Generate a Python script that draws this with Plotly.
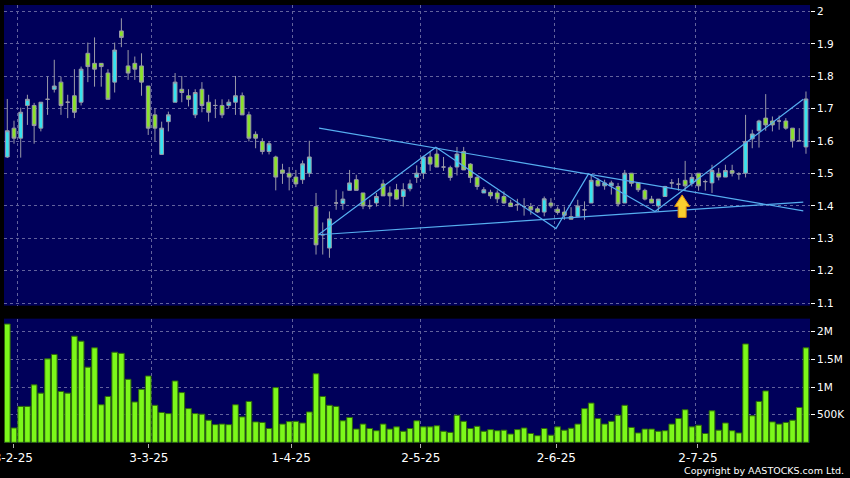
import plotly.graph_objects as go

# ---------------- data ----------------
tick_labels = ["3-2-25", "3-3-25", "1-4-25", "2-5-25", "2-6-25", "2-7-25"]
price_ticks = [1.1, 1.2, 1.3, 1.4, 1.5, 1.6, 1.7, 1.8, 1.9, 2.0]
price_tick_text = ["1.1", "1.2", "1.3", "1.4", "1.5", "1.6", "1.7", "1.8", "1.9", "2"]
vol_ticks = [500000, 1000000, 1500000, 2000000]
vol_tick_text = ["500K", "1M", "1.5M", "2M"]

opens = [1.551, 1.640, 1.609, 1.710, 1.710, 1.640, 1.729, 1.760, 1.782, 1.720,
         1.740, 1.720, 1.871, 1.840, 1.840, 1.810, 1.782, 1.940, 1.832, 1.840,
         1.832, 1.770, 1.681, 1.559, 1.660, 1.720, 1.760, 1.740, 1.681, 1.760,
         1.720, 1.710, 1.710, 1.710, 1.720, 1.740, 1.681, 1.621, 1.599, 1.568,
         1.551, 1.511, 1.501, 1.489, 1.481, 1.501, 1.398, 1.311, 1.270, 1.409,
         1.407, 1.448, 1.481, 1.440, 1.400, 1.409, 1.468, 1.440, 1.450, 1.429,
         1.453, 1.488, 1.501, 1.551, 1.560, 1.520, 1.518, 1.520, 1.568, 1.529,
         1.488, 1.440, 1.442, 1.440, 1.429, 1.409, 1.404, 1.398, 1.398, 1.391,
         1.381, 1.409, 1.390, 1.381, 1.367, 1.367, 1.388, 1.409, 1.479, 1.462,
         1.462, 1.460, 1.409, 1.501, 1.471, 1.448, 1.421, 1.400, 1.429, 1.471,
         1.467, 1.479, 1.470, 1.501, 1.475, 1.471, 1.501, 1.489, 1.509, 1.499,
         1.501, 1.607, 1.632, 1.671, 1.662, 1.662, 1.662, 1.640, 1.601, 1.582]
highs = [1.730, 1.663, 1.703, 1.743, 1.718, 1.720, 1.799, 1.851, 1.799, 1.743,
         1.822, 1.830, 1.904, 1.920, 1.840, 1.822, 1.904, 1.979, 1.881, 1.861,
         1.871, 1.770, 1.702, 1.660, 1.691, 1.810, 1.801, 1.760, 1.760, 1.782,
         1.743, 1.729, 1.729, 1.729, 1.801, 1.750, 1.691, 1.630, 1.609, 1.599,
         1.555, 1.530, 1.520, 1.511, 1.540, 1.601, 1.440, 1.349, 1.383, 1.450,
         1.445, 1.511, 1.496, 1.440, 1.419, 1.440, 1.481, 1.460, 1.468, 1.470,
         1.481, 1.525, 1.555, 1.568, 1.576, 1.551, 1.524, 1.582, 1.582, 1.532,
         1.494, 1.458, 1.450, 1.448, 1.445, 1.419, 1.422, 1.424, 1.409, 1.398,
         1.429, 1.424, 1.398, 1.398, 1.396, 1.419, 1.414, 1.496, 1.486, 1.481,
         1.478, 1.471, 1.511, 1.501, 1.471, 1.453, 1.431, 1.421, 1.462, 1.483,
         1.486, 1.539, 1.501, 1.501, 1.481, 1.527, 1.517, 1.527, 1.527, 1.504,
         1.681, 1.635, 1.666, 1.745, 1.676, 1.679, 1.671, 1.640, 1.640, 1.753]
lows = [1.548, 1.592, 1.549, 1.650, 1.592, 1.630, 1.681, 1.750, 1.681, 1.671,
        1.671, 1.710, 1.782, 1.768, 1.768, 1.729, 1.750, 1.890, 1.789, 1.789,
        1.740, 1.619, 1.599, 1.559, 1.630, 1.720, 1.720, 1.707, 1.671, 1.689,
        1.660, 1.671, 1.671, 1.702, 1.681, 1.681, 1.599, 1.578, 1.559, 1.559,
        1.448, 1.468, 1.448, 1.458, 1.468, 1.489, 1.250, 1.250, 1.240, 1.388,
        1.388, 1.448, 1.448, 1.390, 1.390, 1.398, 1.431, 1.398, 1.419, 1.398,
        1.445, 1.471, 1.483, 1.508, 1.520, 1.508, 1.478, 1.494, 1.511, 1.471,
        1.450, 1.440, 1.422, 1.409, 1.407, 1.398, 1.385, 1.370, 1.373, 1.378,
        1.368, 1.393, 1.373, 1.357, 1.359, 1.367, 1.357, 1.409, 1.460, 1.450,
        1.435, 1.398, 1.409, 1.460, 1.443, 1.417, 1.409, 1.383, 1.429, 1.455,
        1.447, 1.447, 1.460, 1.447, 1.447, 1.440, 1.479, 1.489, 1.491, 1.481,
        1.488, 1.578, 1.580, 1.632, 1.630, 1.635, 1.635, 1.580, 1.601, 1.561]
closes = [1.632, 1.609, 1.689, 1.729, 1.648, 1.720, 1.729, 1.770, 1.710, 1.720,
          1.689, 1.822, 1.830, 1.822, 1.830, 1.729, 1.881, 1.920, 1.810, 1.822,
          1.782, 1.640, 1.640, 1.640, 1.681, 1.782, 1.750, 1.729, 1.750, 1.710,
          1.689, 1.710, 1.681, 1.720, 1.740, 1.681, 1.609, 1.609, 1.568, 1.592,
          1.489, 1.501, 1.489, 1.468, 1.530, 1.551, 1.280, 1.311, 1.360, 1.409,
          1.421, 1.471, 1.448, 1.400, 1.400, 1.429, 1.431, 1.431, 1.421, 1.450,
          1.468, 1.501, 1.551, 1.529, 1.520, 1.520, 1.488, 1.560, 1.511, 1.488,
          1.460, 1.450, 1.431, 1.422, 1.409, 1.398, 1.404, 1.398, 1.388, 1.381,
          1.422, 1.400, 1.380, 1.371, 1.359, 1.400, 1.388, 1.479, 1.462, 1.471,
          1.471, 1.406, 1.501, 1.470, 1.450, 1.421, 1.409, 1.421, 1.460, 1.471,
          1.467, 1.462, 1.488, 1.462, 1.475, 1.509, 1.489, 1.509, 1.501, 1.499,
          1.599, 1.622, 1.662, 1.650, 1.650, 1.662, 1.640, 1.601, 1.601, 1.730]
volumes_m = [2.14, 0.26, 0.65, 0.65, 1.04, 0.89, 1.51, 1.59, 0.92, 0.89,
             1.92, 1.83, 1.36, 1.71, 0.68, 0.83, 1.63, 1.61, 1.14, 0.73,
             0.96, 1.20, 0.67, 0.54, 0.52, 1.11, 0.90, 0.61, 0.52, 0.51,
             0.40, 0.32, 0.33, 0.32, 0.68, 0.46, 0.74, 0.37, 0.36, 0.25,
             0.99, 0.33, 0.375, 0.38, 0.35, 0.55, 1.24, 0.83, 0.67, 0.65,
             0.39, 0.45, 0.24, 0.33, 0.25, 0.21, 0.33, 0.24, 0.28, 0.20,
             0.25, 0.39, 0.28, 0.28, 0.30, 0.20, 0.18, 0.49, 0.38, 0.25,
             0.29, 0.20, 0.23, 0.21, 0.22, 0.15, 0.23, 0.26, 0.16, 0.12,
             0.25, 0.13, 0.28, 0.22, 0.255, 0.33, 0.61, 0.71, 0.43, 0.33,
             0.38, 0.49, 0.67, 0.27, 0.17, 0.24, 0.24, 0.20, 0.21, 0.33,
             0.43, 0.59, 0.28, 0.31, 0.16, 0.57, 0.22, 0.35, 0.21, 0.17,
             1.78, 0.48, 0.74, 0.93, 0.37, 0.33, 0.36, 0.40, 0.63, 1.71]
volumes = [v * 1e6 for v in volumes_m]

# analyst drawings (trading-day index, price)
upper_line_x = [46.45, 118.6]
upper_line_y = [1.640, 1.385]
lower_line_x = [46.35, 118.6]
lower_line_y = [1.311, 1.412]
zigzag_x = [46.35, 63.85, 81.75, 86.6, 96.5, 118.6]
zigzag_y = [1.311, 1.581, 1.330, 1.499, 1.383, 1.729]
arrow_at_x = 100.55
arrow_tip_y = 1.434
arrow_base_y = 1.3645

# ---------------- figure ----------------
x = list(range(len(opens)))
label_pos = [0.9, 21.1, 42.3, 61.6, 81.8, 102.9]
grid_pos = [1.5, 21.5, 42.5, 61.5, 81.5, 102.5]

GRID = "#62629c"
LINE = "#56aef0"
WICK = "#9a9aa8"

fig = go.Figure()
fig.add_trace(go.Candlestick(
    x=x, open=opens, high=highs, low=lows, close=closes,
    increasing=dict(fillcolor="#36e3f0", line=dict(color=WICK, width=1)),
    decreasing=dict(fillcolor="#8ae22a", line=dict(color=WICK, width=1)),
    whiskerwidth=0, showlegend=False, hoverinfo="skip",
    xaxis="x", yaxis="y"))

for lx, ly in [(upper_line_x, upper_line_y), (lower_line_x, lower_line_y), (zigzag_x, zigzag_y)]:
    fig.add_trace(go.Scatter(x=lx, y=ly, mode="lines", line=dict(color=LINE, width=1.2),
                             showlegend=False, hoverinfo="skip", xaxis="x", yaxis="y"))

# arrow polygon (size in px converted to data units)
px_per_idx = 6.71
px_per_price = 324.5
hw_head = 7.5 / px_per_idx
hw_shaft = 4.0 / px_per_idx
neck_y = arrow_tip_y - 11.5 / px_per_price
ax = [arrow_at_x, arrow_at_x + hw_head, arrow_at_x + hw_shaft, arrow_at_x + hw_shaft,
      arrow_at_x - hw_shaft, arrow_at_x - hw_shaft, arrow_at_x - hw_head, arrow_at_x]
ay = [arrow_tip_y, neck_y, neck_y, arrow_base_y, arrow_base_y, neck_y, neck_y, arrow_tip_y]
fig.add_trace(go.Scatter(x=ax, y=ay, mode="lines", fill="toself", fillcolor="#f9cf2e",
                         line=dict(color="#e08c10", width=1), showlegend=False,
                         hoverinfo="skip", xaxis="x", yaxis="y"))

fig.add_trace(go.Bar(x=x, y=volumes, width=0.84,
                     marker=dict(color="#7cf81a", line=dict(color="#2f6a0a", width=1)),
                     showlegend=False, hoverinfo="skip", xaxis="x2", yaxis="y2"))

font_axis = dict(family="DejaVu Sans", size=10.5, color="#ffffff")
xr = [-0.49, 119.6]

fig.update_layout(
    template="none",
    width=850, height=478,
    margin=dict(l=4, r=40, t=5, b=34.5, autoexpand=False),
    paper_bgcolor="#000000", plot_bgcolor="#00005a",
    showlegend=False,
    boxgap=0.2,
    xaxis=dict(domain=[0, 1], range=xr, anchor="y", rangeslider=dict(visible=False),
               automargin=False,
               tickvals=grid_pos, showticklabels=False, ticks="",
               showgrid=True, gridcolor=GRID, griddash="3px,3px", gridwidth=1,
               zeroline=False, showline=False),
    xaxis2=dict(domain=[0, 1], range=xr, anchor="y2", automargin=False,
                tickvals=label_pos, ticktext=tick_labels, ticks="outside", ticklen=4,
                tickcolor="#b0b0b0", showgrid=False, zeroline=False, showline=False,
                ticklabeloverflow="allow",
                tickfont=dict(family="DejaVu Sans", size=12, color="#ffffff"),
                minor=dict(tickvals=grid_pos, showgrid=True, gridcolor=GRID,
                           griddash="3px,3px", gridwidth=1, ticks="")),
    yaxis=dict(domain=[0.3136, 1], range=[1.0923, 2.020], side="right", anchor="x",
               automargin=False,
               tickvals=price_ticks, ticktext=price_tick_text, ticks="outside", ticklen=4,
               tickcolor="#ffffff", tickfont=font_axis,
               showgrid=True, gridcolor=GRID, griddash="3px,3px", gridwidth=1,
               zeroline=False, showline=False),
    yaxis2=dict(domain=[0, 0.2839], range=[-0.012e6, 2.2375e6], side="right", anchor="x2",
                automargin=False,
                tickvals=vol_ticks, ticktext=vol_tick_text, ticks="outside", ticklen=4,
                tickcolor="#ffffff", tickfont=font_axis,
                showgrid=True, gridcolor=GRID, griddash="3px,3px", gridwidth=1,
                zeroline=False, showline=False),
    annotations=[dict(text="Copyright by AASTOCKS.com Ltd.", xref="paper", yref="paper",
                      x=1, y=0, xanchor="right", yanchor="middle", xshift=36, yshift=-27.5,
                      showarrow=False,
                      font=dict(family="DejaVu Sans", size=9.5, color="#ffffff"))],
)

fig.write_html("out.html", config={"displayModeBar": False},
               post_script="document.body.style.margin='0px';document.body.style.overflow='hidden';document.body.style.background='#000';")
